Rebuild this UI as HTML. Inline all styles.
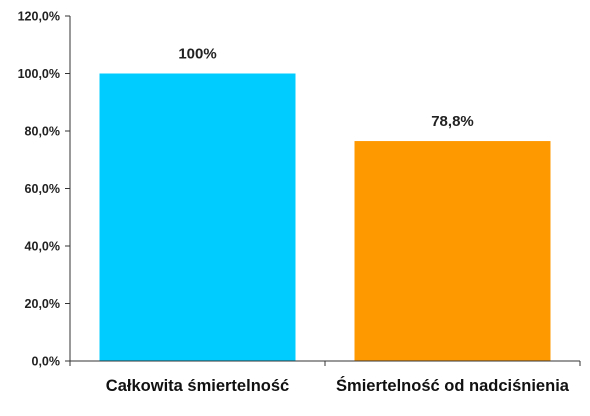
<!DOCTYPE html>
<html><head><meta charset="utf-8"><style>
body{margin:0;background:#fff;}
svg{display:block;font-family:"Liberation Sans",sans-serif;font-weight:bold;}
</style></head><body>
<svg id="chart" width="590" height="416"></svg>
<script>
const categories=["Całkowita śmiertelność","Śmiertelność od nadciśnienia"];
const values=[100,76.5];
const valueLabels=["100%","78,8%"];
const tickValues=[0,20,40,60,80,100,120];
const tickLabels=["0,0%","20,0%","40,0%","60,0%","80,0%","100,0%","120,0%"];
const colors=["#00ccff","#ff9900"];

const svg=document.getElementById('chart');
const NS='http://www.w3.org/2000/svg';
const x0=70,x1=580,y0=361,y1=16,vmax=120;
const yS=v=>y0-(y0-y1)*v/vmax;
const band=(x1-x0)/categories.length;
const xC=i=>x0+band*(i+0.5);
function mk(t,a,txt){const e=document.createElementNS(NS,t);for(const k in a)e.setAttribute(k,a[k]);if(txt!==undefined)e.textContent=txt;svg.appendChild(e);return e;}

tickValues.forEach((v,i)=>{
  const y=yS(v);
  const t=mk('line',{x1:x0-5,x2:x0,y1:y,y2:y,stroke:'#333','stroke-width':1});
  
  
  const l=mk('text',{x:x0-10,y:y+4.5,'text-anchor':'end','font-size':12.5,fill:'#222'},tickLabels[i]);
  
  
});
values.forEach((v,i)=>{
  const w=196;
  const r=mk('rect',{x:xC(i)-w/2,y:yS(v),width:w,height:y0-yS(v),fill:colors[i]});
  
  
  const l=mk('text',{x:xC(i),y:yS(v)-15,'text-anchor':'middle','font-size':15,fill:'#222'},valueLabels[i]);
  
  
  const c=mk('text',{x:xC(i),y:391,'text-anchor':'middle','font-size':16.5,fill:'#111'},categories[i]);
  
  
});
const ya=mk('line',{x1:x0,x2:x0,y1:y1,y2:y0,stroke:'#333','stroke-width':1});


const xa=mk('line',{x1:x0,x2:x1,y1:y0,y2:y0,stroke:'#333','stroke-width':1});


for(let i=0;i<=categories.length;i++){
  const t=mk('line',{x1:x0+band*i,x2:x0+band*i,y1:y0,y2:y0+5,stroke:'#333','stroke-width':1});
  
  
}
</script>
</body></html>
